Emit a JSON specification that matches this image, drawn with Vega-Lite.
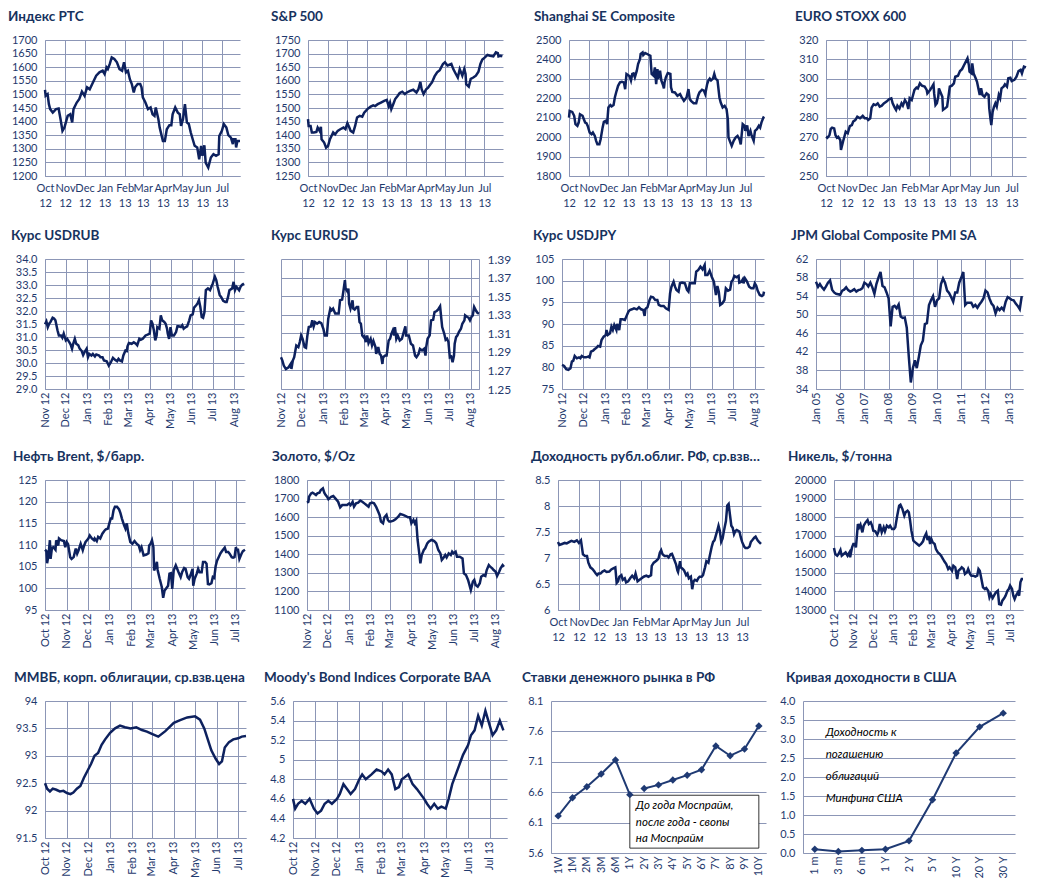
{
"$schema": "https://vega.github.io/schema/vega-lite/v6.json",
"padding": {"left": 8, "top": 9, "right": 0, "bottom": 0},
"spacing": 20,
"background": "white",
"datasets": {
"rts": [{"d":"2012-10-01","v":1517},{"d":"2012-10-02","v":1495},{"d":"2012-10-05","v":1501},{"d":"2012-10-07","v":1464},{"d":"2012-10-09","v":1446},{"d":"2012-10-13","v":1433},{"d":"2012-10-18","v":1446},{"d":"2012-10-22","v":1448},{"d":"2012-10-25","v":1409},{"d":"2012-10-28","v":1366},{"d":"2012-10-31","v":1378},{"d":"2012-11-05","v":1421},{"d":"2012-11-09","v":1427},{"d":"2012-11-12","v":1397},{"d":"2012-11-14","v":1446},{"d":"2012-11-19","v":1470},{"d":"2012-11-23","v":1483},{"d":"2012-11-27","v":1510},{"d":"2012-12-01","v":1495},{"d":"2012-12-05","v":1526},{"d":"2012-12-09","v":1519},{"d":"2012-12-14","v":1544},{"d":"2012-12-19","v":1569},{"d":"2012-12-24","v":1581},{"d":"2012-12-29","v":1587},{"d":"2013-01-01","v":1575},{"d":"2013-01-04","v":1599},{"d":"2013-01-06","v":1593},{"d":"2013-01-09","v":1612},{"d":"2013-01-12","v":1636},{"d":"2013-01-16","v":1630},{"d":"2013-01-20","v":1618},{"d":"2013-01-24","v":1593},{"d":"2013-01-28","v":1587},{"d":"2013-01-31","v":1618},{"d":"2013-02-03","v":1581},{"d":"2013-02-06","v":1587},{"d":"2013-02-09","v":1556},{"d":"2013-02-12","v":1538},{"d":"2013-02-15","v":1507},{"d":"2013-02-17","v":1526},{"d":"2013-02-21","v":1538},{"d":"2013-02-25","v":1538},{"d":"2013-02-27","v":1526},{"d":"2013-03-01","v":1489},{"d":"2013-03-05","v":1470},{"d":"2013-03-09","v":1446},{"d":"2013-03-13","v":1452},{"d":"2013-03-16","v":1427},{"d":"2013-03-19","v":1421},{"d":"2013-03-21","v":1452},{"d":"2013-03-25","v":1409},{"d":"2013-03-27","v":1378},{"d":"2013-04-01","v":1329},{"d":"2013-04-04","v":1329},{"d":"2013-04-07","v":1372},{"d":"2013-04-11","v":1387},{"d":"2013-04-14","v":1387},{"d":"2013-04-16","v":1427},{"d":"2013-04-20","v":1452},{"d":"2013-04-24","v":1433},{"d":"2013-04-27","v":1427},{"d":"2013-04-29","v":1384},{"d":"2013-05-02","v":1409},{"d":"2013-05-05","v":1464},{"d":"2013-05-08","v":1397},{"d":"2013-05-11","v":1391},{"d":"2013-05-14","v":1360},{"d":"2013-05-17","v":1335},{"d":"2013-05-20","v":1311},{"d":"2013-05-24","v":1305},{"d":"2013-05-27","v":1261},{"d":"2013-05-30","v":1311},{"d":"2013-06-01","v":1274},{"d":"2013-06-04","v":1313},{"d":"2013-06-06","v":1249},{"d":"2013-06-10","v":1231},{"d":"2013-06-14","v":1268},{"d":"2013-06-18","v":1280},{"d":"2013-06-22","v":1274},{"d":"2013-06-26","v":1280},{"d":"2013-06-27","v":1347},{"d":"2013-07-01","v":1366},{"d":"2013-07-04","v":1391},{"d":"2013-07-08","v":1378},{"d":"2013-07-11","v":1350},{"d":"2013-07-15","v":1341},{"d":"2013-07-18","v":1317},{"d":"2013-07-19","v":1335},{"d":"2013-07-22","v":1335},{"d":"2013-07-23","v":1305},{"d":"2013-07-25","v":1329},{"d":"2013-07-29","v":1329}],
"spx": [{"d":"2012-10-01","v":1459},{"d":"2012-10-02","v":1434},{"d":"2012-10-05","v":1434},{"d":"2012-10-07","v":1410},{"d":"2012-10-10","v":1410},{"d":"2012-10-14","v":1412},{"d":"2012-10-16","v":1428},{"d":"2012-10-19","v":1416},{"d":"2012-10-21","v":1431},{"d":"2012-10-22","v":1385},{"d":"2012-10-26","v":1373},{"d":"2012-10-29","v":1354},{"d":"2012-11-01","v":1360},{"d":"2012-11-04","v":1385},{"d":"2012-11-09","v":1410},{"d":"2012-11-12","v":1403},{"d":"2012-11-16","v":1416},{"d":"2012-11-20","v":1422},{"d":"2012-11-25","v":1428},{"d":"2012-11-28","v":1422},{"d":"2012-12-01","v":1444},{"d":"2012-12-04","v":1428},{"d":"2012-12-06","v":1416},{"d":"2012-12-10","v":1410},{"d":"2012-12-13","v":1434},{"d":"2012-12-16","v":1465},{"d":"2012-12-20","v":1471},{"d":"2012-12-24","v":1468},{"d":"2012-12-27","v":1483},{"d":"2013-01-01","v":1496},{"d":"2013-01-06","v":1505},{"d":"2013-01-10","v":1510},{"d":"2013-01-13","v":1507},{"d":"2013-01-17","v":1514},{"d":"2013-01-22","v":1520},{"d":"2013-01-27","v":1526},{"d":"2013-01-31","v":1530},{"d":"2013-02-03","v":1507},{"d":"2013-02-05","v":1520},{"d":"2013-02-07","v":1496},{"d":"2013-02-10","v":1514},{"d":"2013-02-13","v":1533},{"d":"2013-02-17","v":1545},{"d":"2013-02-20","v":1555},{"d":"2013-02-24","v":1560},{"d":"2013-02-28","v":1551},{"d":"2013-03-03","v":1557},{"d":"2013-03-08","v":1563},{"d":"2013-03-13","v":1567},{"d":"2013-03-18","v":1557},{"d":"2013-03-21","v":1569},{"d":"2013-03-24","v":1596},{"d":"2013-03-26","v":1569},{"d":"2013-03-29","v":1551},{"d":"2013-04-02","v":1569},{"d":"2013-04-05","v":1575},{"d":"2013-04-09","v":1588},{"d":"2013-04-11","v":1594},{"d":"2013-04-15","v":1616},{"d":"2013-04-19","v":1631},{"d":"2013-04-23","v":1639},{"d":"2013-04-28","v":1662},{"d":"2013-05-01","v":1668},{"d":"2013-05-05","v":1656},{"d":"2013-05-08","v":1659},{"d":"2013-05-11","v":1662},{"d":"2013-05-14","v":1643},{"d":"2013-05-18","v":1625},{"d":"2013-05-21","v":1612},{"d":"2013-05-24","v":1643},{"d":"2013-05-28","v":1619},{"d":"2013-05-31","v":1643},{"d":"2013-06-02","v":1625},{"d":"2013-06-03","v":1588},{"d":"2013-06-07","v":1579},{"d":"2013-06-10","v":1607},{"d":"2013-06-14","v":1612},{"d":"2013-06-18","v":1619},{"d":"2013-06-22","v":1633},{"d":"2013-06-25","v":1662},{"d":"2013-06-28","v":1678},{"d":"2013-07-02","v":1686},{"d":"2013-07-06","v":1695},{"d":"2013-07-10","v":1692},{"d":"2013-07-15","v":1690},{"d":"2013-07-19","v":1705},{"d":"2013-07-22","v":1702},{"d":"2013-07-23","v":1690},{"d":"2013-07-26","v":1692},{"d":"2013-07-29","v":1690}],
"shc": [{"d":"2012-10-01","v":2101},{"d":"2012-10-02","v":2135},{"d":"2012-10-06","v":2130},{"d":"2012-10-09","v":2110},{"d":"2012-10-11","v":2067},{"d":"2012-10-14","v":2058},{"d":"2012-10-16","v":2075},{"d":"2012-10-18","v":2118},{"d":"2012-10-22","v":2110},{"d":"2012-10-24","v":2092},{"d":"2012-10-26","v":2075},{"d":"2012-10-28","v":2072},{"d":"2012-10-30","v":2058},{"d":"2012-11-02","v":2024},{"d":"2012-11-05","v":2015},{"d":"2012-11-07","v":2024},{"d":"2012-11-10","v":2006},{"d":"2012-11-12","v":1981},{"d":"2012-11-14","v":1963},{"d":"2012-11-17","v":1963},{"d":"2012-11-19","v":1989},{"d":"2012-11-22","v":2049},{"d":"2012-11-24","v":2079},{"d":"2012-11-27","v":2084},{"d":"2012-11-29","v":2067},{"d":"2012-12-01","v":2153},{"d":"2012-12-04","v":2165},{"d":"2012-12-06","v":2158},{"d":"2012-12-09","v":2165},{"d":"2012-12-11","v":2204},{"d":"2012-12-13","v":2230},{"d":"2012-12-16","v":2264},{"d":"2012-12-19","v":2282},{"d":"2012-12-22","v":2285},{"d":"2012-12-25","v":2282},{"d":"2012-12-27","v":2247},{"d":"2012-12-29","v":2325},{"d":"2013-01-03","v":2313},{"d":"2013-01-05","v":2292},{"d":"2013-01-07","v":2325},{"d":"2013-01-09","v":2328},{"d":"2013-01-11","v":2308},{"d":"2013-01-14","v":2342},{"d":"2013-01-16","v":2376},{"d":"2013-01-19","v":2402},{"d":"2013-01-20","v":2428},{"d":"2013-01-23","v":2436},{"d":"2013-01-24","v":2423},{"d":"2013-01-27","v":2433},{"d":"2013-01-30","v":2428},{"d":"2013-02-04","v":2419},{"d":"2013-02-06","v":2325},{"d":"2013-02-09","v":2316},{"d":"2013-02-11","v":2359},{"d":"2013-02-13","v":2273},{"d":"2013-02-15","v":2350},{"d":"2013-02-16","v":2299},{"d":"2013-02-19","v":2342},{"d":"2013-02-21","v":2292},{"d":"2013-02-24","v":2264},{"d":"2013-02-25","v":2251},{"d":"2013-02-26","v":2282},{"d":"2013-02-28","v":2308},{"d":"2013-03-03","v":2330},{"d":"2013-03-07","v":2325},{"d":"2013-03-08","v":2256},{"d":"2013-03-10","v":2233},{"d":"2013-03-14","v":2230},{"d":"2013-03-18","v":2213},{"d":"2013-03-22","v":2222},{"d":"2013-03-24","v":2209},{"d":"2013-03-28","v":2187},{"d":"2013-04-01","v":2204},{"d":"2013-04-04","v":2247},{"d":"2013-04-06","v":2196},{"d":"2013-04-08","v":2187},{"d":"2013-04-12","v":2175},{"d":"2013-04-16","v":2175},{"d":"2013-04-19","v":2213},{"d":"2013-04-21","v":2230},{"d":"2013-04-25","v":2244},{"d":"2013-04-28","v":2239},{"d":"2013-04-30","v":2222},{"d":"2013-05-03","v":2273},{"d":"2013-05-05","v":2292},{"d":"2013-05-07","v":2301},{"d":"2013-05-09","v":2292},{"d":"2013-05-12","v":2301},{"d":"2013-05-14","v":2325},{"d":"2013-05-16","v":2301},{"d":"2013-05-19","v":2292},{"d":"2013-05-22","v":2204},{"d":"2013-05-24","v":2178},{"d":"2013-05-27","v":2153},{"d":"2013-05-30","v":2161},{"d":"2013-06-02","v":2144},{"d":"2013-06-04","v":2092},{"d":"2013-06-05","v":1998},{"d":"2013-06-08","v":1972},{"d":"2013-06-10","v":1955},{"d":"2013-06-13","v":1981},{"d":"2013-06-16","v":1998},{"d":"2013-06-19","v":2006},{"d":"2013-06-22","v":1989},{"d":"2013-06-24","v":1963},{"d":"2013-06-25","v":1998},{"d":"2013-06-27","v":2067},{"d":"2013-06-30","v":2058},{"d":"2013-07-01","v":2032},{"d":"2013-07-04","v":2061},{"d":"2013-07-06","v":2006},{"d":"2013-07-09","v":2032},{"d":"2013-07-11","v":2006},{"d":"2013-07-14","v":1981},{"d":"2013-07-16","v":2032},{"d":"2013-07-19","v":2041},{"d":"2013-07-22","v":2058},{"d":"2013-07-24","v":2049},{"d":"2013-07-26","v":2075},{"d":"2013-07-29","v":2101},{"d":"2013-07-30","v":2106}],
"sxxp": [{"d":"2012-10-01","v":270.2},{"d":"2012-10-03","v":269.7},{"d":"2012-10-06","v":271},{"d":"2012-10-08","v":274.2},{"d":"2012-10-10","v":274.9},{"d":"2012-10-13","v":274.5},{"d":"2012-10-15","v":271},{"d":"2012-10-17","v":269.7},{"d":"2012-10-19","v":270.2},{"d":"2012-10-22","v":268.5},{"d":"2012-10-23","v":263.4},{"d":"2012-10-26","v":267.7},{"d":"2012-10-28","v":270.2},{"d":"2012-10-30","v":272.8},{"d":"2012-11-02","v":272},{"d":"2012-11-05","v":275.7},{"d":"2012-11-08","v":276.2},{"d":"2012-11-10","v":278},{"d":"2012-11-13","v":278.8},{"d":"2012-11-16","v":280.5},{"d":"2012-11-20","v":279.7},{"d":"2012-11-24","v":281},{"d":"2012-11-27","v":279.7},{"d":"2012-11-30","v":279.7},{"d":"2012-12-02","v":278.8},{"d":"2012-12-05","v":279.7},{"d":"2012-12-07","v":285.2},{"d":"2012-12-10","v":286.9},{"d":"2012-12-13","v":286.5},{"d":"2012-12-16","v":287.4},{"d":"2012-12-19","v":285.7},{"d":"2012-12-22","v":286.2},{"d":"2012-12-25","v":287.4},{"d":"2012-12-29","v":288.3},{"d":"2013-01-02","v":289.6},{"d":"2013-01-05","v":290},{"d":"2013-01-07","v":287.4},{"d":"2013-01-10","v":285.2},{"d":"2013-01-12","v":284},{"d":"2013-01-14","v":286.2},{"d":"2013-01-17","v":284.8},{"d":"2013-01-20","v":287.4},{"d":"2013-01-22","v":286.2},{"d":"2013-01-25","v":289.1},{"d":"2013-01-28","v":287.4},{"d":"2013-01-30","v":284.5},{"d":"2013-02-01","v":290},{"d":"2013-02-04","v":289.1},{"d":"2013-02-06","v":291.7},{"d":"2013-02-08","v":294.3},{"d":"2013-02-11","v":295.5},{"d":"2013-02-13","v":295.1},{"d":"2013-02-16","v":297.7},{"d":"2013-02-19","v":296.5},{"d":"2013-02-23","v":296},{"d":"2013-02-26","v":294.3},{"d":"2013-02-27","v":292.5},{"d":"2013-03-03","v":294.3},{"d":"2013-03-06","v":296},{"d":"2013-03-08","v":297.2},{"d":"2013-03-09","v":292.5},{"d":"2013-03-11","v":286.5},{"d":"2013-03-13","v":287.4},{"d":"2013-03-15","v":290.8},{"d":"2013-03-16","v":295.1},{"d":"2013-03-19","v":292.5},{"d":"2013-03-21","v":290.8},{"d":"2013-03-22","v":284},{"d":"2013-03-25","v":284.8},{"d":"2013-03-28","v":285.7},{"d":"2013-03-30","v":290.8},{"d":"2013-04-01","v":296},{"d":"2013-04-04","v":296.5},{"d":"2013-04-07","v":297.7},{"d":"2013-04-09","v":301.1},{"d":"2013-04-13","v":301.6},{"d":"2013-04-16","v":304},{"d":"2013-04-19","v":305},{"d":"2013-04-22","v":307.1},{"d":"2013-04-24","v":308.5},{"d":"2013-04-27","v":310.6},{"d":"2013-04-29","v":307.1},{"d":"2013-04-30","v":303.7},{"d":"2013-05-03","v":302.8},{"d":"2013-05-04","v":308},{"d":"2013-05-06","v":302.8},{"d":"2013-05-09","v":300.3},{"d":"2013-05-11","v":298.5},{"d":"2013-05-13","v":295.1},{"d":"2013-05-15","v":291.7},{"d":"2013-05-17","v":295.1},{"d":"2013-05-19","v":291.7},{"d":"2013-05-22","v":290.8},{"d":"2013-05-25","v":292.5},{"d":"2013-05-28","v":291.7},{"d":"2013-05-29","v":284.8},{"d":"2013-05-31","v":278.8},{"d":"2013-06-01","v":276.2},{"d":"2013-06-03","v":283.1},{"d":"2013-06-05","v":285.7},{"d":"2013-06-07","v":287.4},{"d":"2013-06-09","v":285.7},{"d":"2013-06-12","v":291.7},{"d":"2013-06-14","v":290},{"d":"2013-06-16","v":295.1},{"d":"2013-06-19","v":296},{"d":"2013-06-21","v":297.2},{"d":"2013-06-24","v":296},{"d":"2013-06-26","v":300.3},{"d":"2013-06-29","v":300.6},{"d":"2013-07-01","v":298.9},{"d":"2013-07-05","v":299.5},{"d":"2013-07-08","v":301.1},{"d":"2013-07-11","v":304},{"d":"2013-07-14","v":304.6},{"d":"2013-07-16","v":302.8},{"d":"2013-07-19","v":306.3},{"d":"2013-07-22","v":305.9}],
"usdrub": [{"d":"2012-11-01","v":31.49},{"d":"2012-11-03","v":31.6},{"d":"2012-11-05","v":31.38},{"d":"2012-11-07","v":31.51},{"d":"2012-11-09","v":31.58},{"d":"2012-11-12","v":31.74},{"d":"2012-11-14","v":31.71},{"d":"2012-11-16","v":31.64},{"d":"2012-11-19","v":31.26},{"d":"2012-11-21","v":31.06},{"d":"2012-11-24","v":31.06},{"d":"2012-11-26","v":30.97},{"d":"2012-11-28","v":31.13},{"d":"2012-12-01","v":30.87},{"d":"2012-12-03","v":30.93},{"d":"2012-12-06","v":30.8},{"d":"2012-12-08","v":30.71},{"d":"2012-12-10","v":30.55},{"d":"2012-12-12","v":30.77},{"d":"2012-12-14","v":30.93},{"d":"2012-12-16","v":30.74},{"d":"2012-12-19","v":30.68},{"d":"2012-12-21","v":30.55},{"d":"2012-12-24","v":30.46},{"d":"2012-12-26","v":30.31},{"d":"2012-12-28","v":30.42},{"d":"2012-12-31","v":30.55},{"d":"2013-01-02","v":30.22},{"d":"2013-01-04","v":30.35},{"d":"2013-01-07","v":30.29},{"d":"2013-01-09","v":30.35},{"d":"2013-01-12","v":30.25},{"d":"2013-01-14","v":30.33},{"d":"2013-01-18","v":30.29},{"d":"2013-01-20","v":30.22},{"d":"2013-01-23","v":30.22},{"d":"2013-01-25","v":30.1},{"d":"2013-01-29","v":30.07},{"d":"2013-02-01","v":29.9},{"d":"2013-02-04","v":30.03},{"d":"2013-02-07","v":30.2},{"d":"2013-02-10","v":30.12},{"d":"2013-02-13","v":30.07},{"d":"2013-02-15","v":30.16},{"d":"2013-02-17","v":30.1},{"d":"2013-02-20","v":30.06},{"d":"2013-02-22","v":30.29},{"d":"2013-02-25","v":30.48},{"d":"2013-02-27","v":30.46},{"d":"2013-02-28","v":30.64},{"d":"2013-03-02","v":30.77},{"d":"2013-03-06","v":30.74},{"d":"2013-03-09","v":30.8},{"d":"2013-03-12","v":30.74},{"d":"2013-03-14","v":30.68},{"d":"2013-03-17","v":30.93},{"d":"2013-03-19","v":30.89},{"d":"2013-03-22","v":30.93},{"d":"2013-03-26","v":31.06},{"d":"2013-03-29","v":31.09},{"d":"2013-04-01","v":31.13},{"d":"2013-04-03","v":31.64},{"d":"2013-04-05","v":31.51},{"d":"2013-04-07","v":31.26},{"d":"2013-04-09","v":30.87},{"d":"2013-04-11","v":31.06},{"d":"2013-04-12","v":31.38},{"d":"2013-04-15","v":31.32},{"d":"2013-04-17","v":31.83},{"d":"2013-04-19","v":31.64},{"d":"2013-04-22","v":31.58},{"d":"2013-04-24","v":31.51},{"d":"2013-04-26","v":31.32},{"d":"2013-04-27","v":31.13},{"d":"2013-04-29","v":30.93},{"d":"2013-05-01","v":31.38},{"d":"2013-05-03","v":31.06},{"d":"2013-05-06","v":31.06},{"d":"2013-05-09","v":31.19},{"d":"2013-05-11","v":31.41},{"d":"2013-05-13","v":31.41},{"d":"2013-05-16","v":31.38},{"d":"2013-05-18","v":31.45},{"d":"2013-05-20","v":31.32},{"d":"2013-05-23","v":31.38},{"d":"2013-05-25","v":31.41},{"d":"2013-05-28","v":31.64},{"d":"2013-05-30","v":31.83},{"d":"2013-06-02","v":31.87},{"d":"2013-06-04","v":32.13},{"d":"2013-06-07","v":32.22},{"d":"2013-06-09","v":32.29},{"d":"2013-06-11","v":32.42},{"d":"2013-06-13","v":32.16},{"d":"2013-06-15","v":31.77},{"d":"2013-06-17","v":31.74},{"d":"2013-06-19","v":31.96},{"d":"2013-06-21","v":32.8},{"d":"2013-06-24","v":32.87},{"d":"2013-06-27","v":32.8},{"d":"2013-06-29","v":32.93},{"d":"2013-07-01","v":33.06},{"d":"2013-07-04","v":33.32},{"d":"2013-07-06","v":33.19},{"d":"2013-07-08","v":32.93},{"d":"2013-07-11","v":32.61},{"d":"2013-07-13","v":32.54},{"d":"2013-07-16","v":32.39},{"d":"2013-07-19","v":32.35},{"d":"2013-07-21","v":32.35},{"d":"2013-07-23","v":32.54},{"d":"2013-07-25","v":32.8},{"d":"2013-07-29","v":32.87},{"d":"2013-07-31","v":33.12},{"d":"2013-08-02","v":32.8},{"d":"2013-08-04","v":32.93},{"d":"2013-08-06","v":32.87},{"d":"2013-08-08","v":32.8},{"d":"2013-08-10","v":32.93},{"d":"2013-08-12","v":33},{"d":"2013-08-15","v":33.06}],
"eurusd": [{"d":"2012-11-01","v":1.2842},{"d":"2012-11-03","v":1.2806},{"d":"2012-11-05","v":1.2752},{"d":"2012-11-08","v":1.2716},{"d":"2012-11-12","v":1.2734},{"d":"2012-11-15","v":1.277},{"d":"2012-11-16","v":1.2716},{"d":"2012-11-18","v":1.2806},{"d":"2012-11-20","v":1.2842},{"d":"2012-11-23","v":1.2969},{"d":"2012-11-26","v":1.2951},{"d":"2012-11-28","v":1.3005},{"d":"2012-11-30","v":1.3077},{"d":"2012-12-02","v":1.3041},{"d":"2012-12-05","v":1.2951},{"d":"2012-12-07","v":1.2943},{"d":"2012-12-09","v":1.3077},{"d":"2012-12-11","v":1.3167},{"d":"2012-12-14","v":1.3174},{"d":"2012-12-16","v":1.3239},{"d":"2012-12-18","v":1.3174},{"d":"2012-12-20","v":1.3221},{"d":"2012-12-23","v":1.3203},{"d":"2012-12-26","v":1.3221},{"d":"2012-12-29","v":1.321},{"d":"2013-01-01","v":1.3149},{"d":"2013-01-03","v":1.3077},{"d":"2013-01-06","v":1.3077},{"d":"2013-01-08","v":1.3257},{"d":"2013-01-11","v":1.3366},{"d":"2013-01-13","v":1.3347},{"d":"2013-01-15","v":1.3366},{"d":"2013-01-18","v":1.3312},{"d":"2013-01-20","v":1.3312},{"d":"2013-01-23","v":1.3312},{"d":"2013-01-25","v":1.3456},{"d":"2013-01-28","v":1.3463},{"d":"2013-01-30","v":1.3564},{"d":"2013-02-01","v":1.3673},{"d":"2013-02-02","v":1.3582},{"d":"2013-02-05","v":1.3546},{"d":"2013-02-06","v":1.3582},{"d":"2013-02-07","v":1.342},{"d":"2013-02-09","v":1.3366},{"d":"2013-02-12","v":1.3456},{"d":"2013-02-13","v":1.3366},{"d":"2013-02-15","v":1.3355},{"d":"2013-02-18","v":1.3384},{"d":"2013-02-20","v":1.3384},{"d":"2013-02-22","v":1.3221},{"d":"2013-02-24","v":1.3203},{"d":"2013-02-26","v":1.3077},{"d":"2013-02-28","v":1.3059},{"d":"2013-03-01","v":1.3066},{"d":"2013-03-03","v":1.3005},{"d":"2013-03-05","v":1.3077},{"d":"2013-03-07","v":1.2994},{"d":"2013-03-10","v":1.3041},{"d":"2013-03-12","v":1.2969},{"d":"2013-03-14","v":1.3016},{"d":"2013-03-17","v":1.2951},{"d":"2013-03-18","v":1.2878},{"d":"2013-03-21","v":1.2951},{"d":"2013-03-23","v":1.2878},{"d":"2013-03-25","v":1.286},{"d":"2013-03-27","v":1.277},{"d":"2013-03-28","v":1.2842},{"d":"2013-03-31","v":1.286},{"d":"2013-04-02","v":1.286},{"d":"2013-04-05","v":1.3023},{"d":"2013-04-07","v":1.3041},{"d":"2013-04-09","v":1.3095},{"d":"2013-04-11","v":1.3131},{"d":"2013-04-13","v":1.3077},{"d":"2013-04-14","v":1.3167},{"d":"2013-04-16","v":1.3041},{"d":"2013-04-18","v":1.3077},{"d":"2013-04-21","v":1.3023},{"d":"2013-04-24","v":1.3041},{"d":"2013-04-26","v":1.3095},{"d":"2013-04-29","v":1.3174},{"d":"2013-04-30","v":1.3077},{"d":"2013-05-02","v":1.3077},{"d":"2013-05-04","v":1.3077},{"d":"2013-05-07","v":1.2987},{"d":"2013-05-10","v":1.2969},{"d":"2013-05-13","v":1.286},{"d":"2013-05-15","v":1.2842},{"d":"2013-05-18","v":1.2878},{"d":"2013-05-20","v":1.2933},{"d":"2013-05-23","v":1.2915},{"d":"2013-05-26","v":1.2933},{"d":"2013-05-28","v":1.286},{"d":"2013-05-29","v":1.2951},{"d":"2013-05-31","v":1.3041},{"d":"2013-06-03","v":1.3077},{"d":"2013-06-05","v":1.3239},{"d":"2013-06-08","v":1.3246},{"d":"2013-06-10","v":1.3329},{"d":"2013-06-13","v":1.334},{"d":"2013-06-15","v":1.3355},{"d":"2013-06-18","v":1.3391},{"d":"2013-06-20","v":1.3239},{"d":"2013-06-21","v":1.3167},{"d":"2013-06-24","v":1.3095},{"d":"2013-06-26","v":1.303},{"d":"2013-06-28","v":1.3041},{"d":"2013-06-30","v":1.3005},{"d":"2013-07-02","v":1.2842},{"d":"2013-07-04","v":1.2849},{"d":"2013-07-06","v":1.2788},{"d":"2013-07-08","v":1.286},{"d":"2013-07-09","v":1.2987},{"d":"2013-07-11","v":1.3059},{"d":"2013-07-13","v":1.3077},{"d":"2013-07-15","v":1.3113},{"d":"2013-07-18","v":1.3149},{"d":"2013-07-20","v":1.3203},{"d":"2013-07-23","v":1.3239},{"d":"2013-07-24","v":1.3293},{"d":"2013-07-27","v":1.3275},{"d":"2013-07-29","v":1.3268},{"d":"2013-07-31","v":1.3239},{"d":"2013-08-02","v":1.3275},{"d":"2013-08-04","v":1.3293},{"d":"2013-08-06","v":1.3384},{"d":"2013-08-09","v":1.334},{"d":"2013-08-11","v":1.3318},{"d":"2013-08-13","v":1.3311}],
"usdjpy": [{"d":"2012-11-01","v":80.54},{"d":"2012-11-04","v":80.31},{"d":"2012-11-07","v":79.55},{"d":"2012-11-10","v":79.39},{"d":"2012-11-13","v":79.78},{"d":"2012-11-15","v":81.32},{"d":"2012-11-17","v":81.55},{"d":"2012-11-19","v":82.62},{"d":"2012-11-22","v":82.09},{"d":"2012-11-25","v":82.31},{"d":"2012-11-27","v":82.09},{"d":"2012-11-29","v":82.62},{"d":"2012-12-02","v":82.31},{"d":"2012-12-05","v":82.31},{"d":"2012-12-08","v":82.47},{"d":"2012-12-10","v":82.31},{"d":"2012-12-12","v":83.62},{"d":"2012-12-15","v":83.85},{"d":"2012-12-17","v":84.16},{"d":"2012-12-20","v":84.55},{"d":"2012-12-22","v":84.93},{"d":"2012-12-25","v":84.78},{"d":"2012-12-27","v":86.31},{"d":"2012-12-30","v":87.08},{"d":"2013-01-02","v":87.47},{"d":"2013-01-03","v":88.62},{"d":"2013-01-05","v":87.47},{"d":"2013-01-08","v":87.85},{"d":"2013-01-10","v":89.39},{"d":"2013-01-12","v":88.62},{"d":"2013-01-14","v":89.77},{"d":"2013-01-17","v":88.62},{"d":"2013-01-18","v":90},{"d":"2013-01-21","v":88.62},{"d":"2013-01-23","v":91.08},{"d":"2013-01-26","v":91.08},{"d":"2013-01-29","v":90.93},{"d":"2013-01-31","v":91.7},{"d":"2013-02-03","v":92.85},{"d":"2013-02-05","v":93.23},{"d":"2013-02-08","v":93.39},{"d":"2013-02-11","v":93.62},{"d":"2013-02-15","v":93.39},{"d":"2013-02-18","v":93.85},{"d":"2013-02-21","v":93.39},{"d":"2013-02-24","v":93.23},{"d":"2013-02-26","v":91.85},{"d":"2013-02-27","v":93.39},{"d":"2013-02-28","v":93.62},{"d":"2013-03-02","v":93.85},{"d":"2013-03-05","v":95.54},{"d":"2013-03-07","v":96.31},{"d":"2013-03-10","v":96.16},{"d":"2013-03-13","v":95.54},{"d":"2013-03-16","v":95.54},{"d":"2013-03-18","v":94.39},{"d":"2013-03-21","v":94.16},{"d":"2013-03-25","v":94.16},{"d":"2013-03-28","v":93.62},{"d":"2013-04-01","v":93.23},{"d":"2013-04-03","v":97.08},{"d":"2013-04-05","v":98.62},{"d":"2013-04-08","v":99.77},{"d":"2013-04-10","v":98.62},{"d":"2013-04-12","v":97.85},{"d":"2013-04-15","v":97.47},{"d":"2013-04-17","v":99.39},{"d":"2013-04-20","v":99.54},{"d":"2013-04-24","v":99.39},{"d":"2013-04-27","v":97.85},{"d":"2013-04-29","v":97.47},{"d":"2013-05-01","v":99.39},{"d":"2013-05-04","v":99.39},{"d":"2013-05-08","v":99.39},{"d":"2013-05-10","v":102.08},{"d":"2013-05-13","v":102.46},{"d":"2013-05-16","v":103.23},{"d":"2013-05-19","v":102.62},{"d":"2013-05-22","v":103.62},{"d":"2013-05-23","v":101.31},{"d":"2013-05-26","v":101.31},{"d":"2013-05-29","v":102.31},{"d":"2013-06-01","v":100.92},{"d":"2013-06-04","v":99.77},{"d":"2013-06-07","v":96.7},{"d":"2013-06-09","v":98.77},{"d":"2013-06-11","v":97.47},{"d":"2013-06-13","v":94.39},{"d":"2013-06-16","v":94.77},{"d":"2013-06-19","v":95.54},{"d":"2013-06-21","v":98.23},{"d":"2013-06-24","v":97.7},{"d":"2013-06-27","v":97.92},{"d":"2013-06-29","v":99.77},{"d":"2013-07-01","v":100.16},{"d":"2013-07-03","v":101.08},{"d":"2013-07-06","v":100.77},{"d":"2013-07-09","v":101.08},{"d":"2013-07-10","v":99.54},{"d":"2013-07-13","v":99.77},{"d":"2013-07-15","v":100.31},{"d":"2013-07-16","v":99.39},{"d":"2013-07-18","v":100.54},{"d":"2013-07-21","v":99.77},{"d":"2013-07-24","v":98.62},{"d":"2013-07-27","v":98.23},{"d":"2013-07-30","v":98.23},{"d":"2013-08-01","v":99.39},{"d":"2013-08-03","v":98.85},{"d":"2013-08-05","v":97.7},{"d":"2013-08-08","v":96.7},{"d":"2013-08-11","v":96.47},{"d":"2013-08-13","v":96.7},{"d":"2013-08-14","v":97.47}],
"pmi": [{"d":"2005-01-01","v":57.1},{"d":"2005-02-01","v":56.0},{"d":"2005-03-01","v":56.6},{"d":"2005-04-01","v":55.9},{"d":"2005-05-01","v":55.4},{"d":"2005-06-01","v":56.1},{"d":"2005-07-01","v":56.9},{"d":"2005-08-01","v":57.4},{"d":"2005-09-01","v":55.4},{"d":"2005-10-01","v":54.8},{"d":"2005-11-01","v":54.5},{"d":"2005-12-01","v":54.4},{"d":"2006-01-01","v":54.3},{"d":"2006-02-01","v":55.2},{"d":"2006-03-01","v":55.4},{"d":"2006-04-01","v":55.9},{"d":"2006-05-01","v":55.3},{"d":"2006-06-01","v":55.0},{"d":"2006-07-01","v":55.2},{"d":"2006-08-01","v":55.5},{"d":"2006-09-01","v":55.0},{"d":"2006-10-01","v":55.3},{"d":"2006-11-01","v":55.4},{"d":"2006-12-01","v":55.7},{"d":"2007-01-01","v":56.9},{"d":"2007-02-01","v":56.6},{"d":"2007-03-01","v":56.1},{"d":"2007-04-01","v":56.9},{"d":"2007-05-01","v":55.9},{"d":"2007-06-01","v":54.5},{"d":"2007-07-01","v":56.6},{"d":"2007-08-01","v":58.0},{"d":"2007-09-01","v":59.2},{"d":"2007-10-01","v":56.2},{"d":"2007-11-01","v":55.9},{"d":"2007-12-01","v":54.8},{"d":"2008-01-01","v":53.5},{"d":"2008-02-01","v":47.5},{"d":"2008-03-01","v":51.7},{"d":"2008-04-01","v":51.9},{"d":"2008-05-01","v":51.4},{"d":"2008-06-01","v":52.2},{"d":"2008-07-01","v":49.6},{"d":"2008-08-01","v":49.3},{"d":"2008-09-01","v":49.4},{"d":"2008-10-01","v":47.2},{"d":"2008-11-01","v":40.9},{"d":"2008-12-01","v":35.4},{"d":"2009-01-01","v":38.5},{"d":"2009-02-01","v":40.2},{"d":"2009-03-01","v":38.5},{"d":"2009-04-01","v":40.9},{"d":"2009-05-01","v":43.4},{"d":"2009-06-01","v":44.4},{"d":"2009-07-01","v":48.0},{"d":"2009-08-01","v":48.2},{"d":"2009-09-01","v":52.1},{"d":"2009-10-01","v":53.1},{"d":"2009-11-01","v":54.0},{"d":"2009-12-01","v":51.7},{"d":"2010-01-01","v":53.1},{"d":"2010-02-01","v":53.5},{"d":"2010-03-01","v":56.6},{"d":"2010-04-01","v":57.8},{"d":"2010-05-01","v":56.9},{"d":"2010-06-01","v":55.2},{"d":"2010-07-01","v":54.7},{"d":"2010-08-01","v":53.8},{"d":"2010-09-01","v":52.8},{"d":"2010-10-01","v":54.8},{"d":"2010-11-01","v":54.8},{"d":"2010-12-01","v":56.9},{"d":"2011-01-01","v":58.0},{"d":"2011-02-01","v":59.2},{"d":"2011-03-01","v":52.1},{"d":"2011-04-01","v":52.6},{"d":"2011-05-01","v":52.6},{"d":"2011-06-01","v":52.6},{"d":"2011-07-01","v":51.7},{"d":"2011-08-01","v":52.1},{"d":"2011-09-01","v":51.5},{"d":"2011-10-01","v":52.2},{"d":"2011-11-01","v":52.8},{"d":"2011-12-01","v":53.5},{"d":"2012-01-01","v":55.2},{"d":"2012-02-01","v":54.8},{"d":"2012-03-01","v":53.5},{"d":"2012-04-01","v":52.4},{"d":"2012-05-01","v":51.9},{"d":"2012-06-01","v":50.3},{"d":"2012-07-01","v":51.5},{"d":"2012-08-01","v":51.0},{"d":"2012-09-01","v":51.5},{"d":"2012-10-01","v":51.0},{"d":"2012-11-01","v":52.8},{"d":"2012-12-01","v":53.8},{"d":"2013-01-01","v":53.5},{"d":"2013-02-01","v":53.2},{"d":"2013-03-01","v":53.1},{"d":"2013-04-01","v":52.4},{"d":"2013-05-01","v":51.9},{"d":"2013-06-01","v":51.2},{"d":"2013-07-01","v":54.0}],
"brent": [{"d":"2012-10-01","v":108.9},{"d":"2012-10-03","v":108.6},{"d":"2012-10-04","v":105.8},{"d":"2012-10-06","v":107.6},{"d":"2012-10-08","v":111.1},{"d":"2012-10-09","v":106.8},{"d":"2012-10-11","v":109.4},{"d":"2012-10-13","v":109.5},{"d":"2012-10-16","v":108.9},{"d":"2012-10-17","v":111.1},{"d":"2012-10-20","v":109.9},{"d":"2012-10-21","v":111.5},{"d":"2012-10-24","v":111.1},{"d":"2012-10-28","v":110.9},{"d":"2012-10-30","v":109.5},{"d":"2012-11-01","v":110.7},{"d":"2012-11-03","v":110.2},{"d":"2012-11-06","v":107.2},{"d":"2012-11-08","v":106.8},{"d":"2012-11-11","v":107.2},{"d":"2012-11-14","v":109.2},{"d":"2012-11-16","v":108},{"d":"2012-11-18","v":108.8},{"d":"2012-11-21","v":110.3},{"d":"2012-11-24","v":108.8},{"d":"2012-11-26","v":109.9},{"d":"2012-11-28","v":110.7},{"d":"2012-11-30","v":111.1},{"d":"2012-12-02","v":111.5},{"d":"2012-12-04","v":112.2},{"d":"2012-12-07","v":111.5},{"d":"2012-12-10","v":111.1},{"d":"2012-12-11","v":111.5},{"d":"2012-12-14","v":110.9},{"d":"2012-12-16","v":111.9},{"d":"2012-12-19","v":111.5},{"d":"2012-12-22","v":112.6},{"d":"2012-12-25","v":113.3},{"d":"2012-12-27","v":113.6},{"d":"2012-12-30","v":113.8},{"d":"2013-01-01","v":115},{"d":"2013-01-03","v":116.1},{"d":"2013-01-05","v":116.1},{"d":"2013-01-07","v":118},{"d":"2013-01-09","v":118.8},{"d":"2013-01-12","v":118.8},{"d":"2013-01-15","v":118.2},{"d":"2013-01-17","v":117.3},{"d":"2013-01-19","v":116.1},{"d":"2013-01-22","v":114.6},{"d":"2013-01-24","v":113.8},{"d":"2013-01-26","v":115},{"d":"2013-01-28","v":112.8},{"d":"2013-01-31","v":110.7},{"d":"2013-02-03","v":110.3},{"d":"2013-02-06","v":110.9},{"d":"2013-02-09","v":110.3},{"d":"2013-02-12","v":109.9},{"d":"2013-02-14","v":108.8},{"d":"2013-02-16","v":109.5},{"d":"2013-02-19","v":107.6},{"d":"2013-02-23","v":107.8},{"d":"2013-02-26","v":108.1},{"d":"2013-02-27","v":109.9},{"d":"2013-03-01","v":110.3},{"d":"2013-03-03","v":111.1},{"d":"2013-03-05","v":109.5},{"d":"2013-03-06","v":104.1},{"d":"2013-03-08","v":104.9},{"d":"2013-03-10","v":106.1},{"d":"2013-03-11","v":104.3},{"d":"2013-03-14","v":102.2},{"d":"2013-03-17","v":100.3},{"d":"2013-03-19","v":97.8},{"d":"2013-03-21","v":99.5},{"d":"2013-03-23","v":99.9},{"d":"2013-03-26","v":100.6},{"d":"2013-03-28","v":103.4},{"d":"2013-03-30","v":103.5},{"d":"2013-04-01","v":99.9},{"d":"2013-04-03","v":104.1},{"d":"2013-04-06","v":105.3},{"d":"2013-04-08","v":104.5},{"d":"2013-04-10","v":103.7},{"d":"2013-04-13","v":102.6},{"d":"2013-04-15","v":103.7},{"d":"2013-04-18","v":104.7},{"d":"2013-04-20","v":104.5},{"d":"2013-04-23","v":102.6},{"d":"2013-04-25","v":102.2},{"d":"2013-04-27","v":103},{"d":"2013-04-30","v":104.5},{"d":"2013-05-01","v":100.6},{"d":"2013-05-03","v":102.2},{"d":"2013-05-06","v":103.4},{"d":"2013-05-08","v":104.5},{"d":"2013-05-10","v":103.7},{"d":"2013-05-13","v":103.7},{"d":"2013-05-15","v":106.1},{"d":"2013-05-18","v":106.1},{"d":"2013-05-20","v":105.7},{"d":"2013-05-22","v":101},{"d":"2013-05-24","v":100.9},{"d":"2013-05-27","v":101.2},{"d":"2013-05-29","v":102.6},{"d":"2013-05-31","v":102.4},{"d":"2013-06-02","v":105.1},{"d":"2013-06-04","v":106.4},{"d":"2013-06-07","v":107.4},{"d":"2013-06-09","v":108.1},{"d":"2013-06-12","v":108.8},{"d":"2013-06-15","v":109.4},{"d":"2013-06-17","v":108.4},{"d":"2013-06-20","v":108.4},{"d":"2013-06-22","v":108},{"d":"2013-06-25","v":107.2},{"d":"2013-06-27","v":107.1},{"d":"2013-06-29","v":107.2},{"d":"2013-07-01","v":109.5},{"d":"2013-07-02","v":108.9},{"d":"2013-07-04","v":108.9},{"d":"2013-07-06","v":106.8},{"d":"2013-07-09","v":108},{"d":"2013-07-11","v":108.6},{"d":"2013-07-14","v":108.9}],
"gold": [{"d":"2012-11-01","v":1678},{"d":"2012-11-03","v":1683},{"d":"2012-11-04","v":1710},{"d":"2012-11-07","v":1728},{"d":"2012-11-09","v":1732},{"d":"2012-11-12","v":1725},{"d":"2012-11-14","v":1719},{"d":"2012-11-16","v":1728},{"d":"2012-11-19","v":1732},{"d":"2012-11-21","v":1746},{"d":"2012-11-24","v":1755},{"d":"2012-11-26","v":1732},{"d":"2012-11-28","v":1719},{"d":"2012-11-30","v":1710},{"d":"2012-12-02","v":1696},{"d":"2012-12-06","v":1710},{"d":"2012-12-09","v":1714},{"d":"2012-12-12","v":1701},{"d":"2012-12-16","v":1683},{"d":"2012-12-19","v":1653},{"d":"2012-12-22","v":1665},{"d":"2012-12-26","v":1665},{"d":"2012-12-29","v":1665},{"d":"2013-01-01","v":1674},{"d":"2013-01-03","v":1665},{"d":"2013-01-06","v":1683},{"d":"2013-01-08","v":1656},{"d":"2013-01-11","v":1674},{"d":"2013-01-14","v":1678},{"d":"2013-01-17","v":1689},{"d":"2013-01-20","v":1683},{"d":"2013-01-23","v":1674},{"d":"2013-01-26","v":1665},{"d":"2013-01-29","v":1656},{"d":"2013-01-31","v":1674},{"d":"2013-02-03","v":1678},{"d":"2013-02-06","v":1674},{"d":"2013-02-09","v":1656},{"d":"2013-02-11","v":1638},{"d":"2013-02-14","v":1612},{"d":"2013-02-16","v":1576},{"d":"2013-02-19","v":1567},{"d":"2013-02-21","v":1599},{"d":"2013-02-24","v":1612},{"d":"2013-02-26","v":1585},{"d":"2013-02-28","v":1576},{"d":"2013-03-02","v":1576},{"d":"2013-03-06","v":1581},{"d":"2013-03-09","v":1588},{"d":"2013-03-13","v":1603},{"d":"2013-03-16","v":1617},{"d":"2013-03-20","v":1612},{"d":"2013-03-24","v":1606},{"d":"2013-03-27","v":1599},{"d":"2013-03-30","v":1599},{"d":"2013-04-01","v":1567},{"d":"2013-04-04","v":1585},{"d":"2013-04-06","v":1567},{"d":"2013-04-08","v":1581},{"d":"2013-04-10","v":1477},{"d":"2013-04-13","v":1387},{"d":"2013-04-14","v":1351},{"d":"2013-04-16","v":1396},{"d":"2013-04-19","v":1423},{"d":"2013-04-21","v":1432},{"d":"2013-04-24","v":1459},{"d":"2013-04-26","v":1468},{"d":"2013-04-30","v":1477},{"d":"2013-05-03","v":1473},{"d":"2013-05-05","v":1468},{"d":"2013-05-07","v":1459},{"d":"2013-05-10","v":1423},{"d":"2013-05-13","v":1405},{"d":"2013-05-15","v":1369},{"d":"2013-05-17","v":1378},{"d":"2013-05-20","v":1396},{"d":"2013-05-22","v":1383},{"d":"2013-05-25","v":1405},{"d":"2013-05-28","v":1396},{"d":"2013-05-30","v":1414},{"d":"2013-06-01","v":1405},{"d":"2013-06-04","v":1414},{"d":"2013-06-06","v":1387},{"d":"2013-06-10","v":1387},{"d":"2013-06-14","v":1378},{"d":"2013-06-16","v":1297},{"d":"2013-06-19","v":1288},{"d":"2013-06-22","v":1262},{"d":"2013-06-24","v":1235},{"d":"2013-06-26","v":1208},{"d":"2013-06-29","v":1253},{"d":"2013-07-01","v":1262},{"d":"2013-07-03","v":1235},{"d":"2013-07-06","v":1226},{"d":"2013-07-09","v":1244},{"d":"2013-07-11","v":1279},{"d":"2013-07-14","v":1288},{"d":"2013-07-17","v":1283},{"d":"2013-07-19","v":1315},{"d":"2013-07-22","v":1342},{"d":"2013-07-24","v":1333},{"d":"2013-07-27","v":1324},{"d":"2013-07-29","v":1315},{"d":"2013-08-01","v":1306},{"d":"2013-08-03","v":1283},{"d":"2013-08-06","v":1306},{"d":"2013-08-08","v":1324},{"d":"2013-08-11","v":1342},{"d":"2013-08-13","v":1333}],
"ofz": [{"d":"2012-10-01","v":7.31},{"d":"2012-10-03","v":7.25},{"d":"2012-10-07","v":7.27},{"d":"2012-10-11","v":7.29},{"d":"2012-10-14","v":7.28},{"d":"2012-10-18","v":7.31},{"d":"2012-10-21","v":7.33},{"d":"2012-10-25","v":7.31},{"d":"2012-10-29","v":7.34},{"d":"2012-11-01","v":7.29},{"d":"2012-11-04","v":7.34},{"d":"2012-11-05","v":7.25},{"d":"2012-11-07","v":7.07},{"d":"2012-11-10","v":7.04},{"d":"2012-11-13","v":7.04},{"d":"2012-11-15","v":6.91},{"d":"2012-11-18","v":6.82},{"d":"2012-11-21","v":6.79},{"d":"2012-11-24","v":6.74},{"d":"2012-11-26","v":6.7},{"d":"2012-11-28","v":6.67},{"d":"2012-11-30","v":6.7},{"d":"2012-12-03","v":6.7},{"d":"2012-12-06","v":6.74},{"d":"2012-12-09","v":6.76},{"d":"2012-12-12","v":6.73},{"d":"2012-12-16","v":6.74},{"d":"2012-12-19","v":6.78},{"d":"2012-12-22","v":6.8},{"d":"2012-12-25","v":6.82},{"d":"2012-12-27","v":6.52},{"d":"2012-12-29","v":6.55},{"d":"2012-12-31","v":6.64},{"d":"2013-01-03","v":6.67},{"d":"2013-01-05","v":6.58},{"d":"2013-01-08","v":6.61},{"d":"2013-01-10","v":6.53},{"d":"2013-01-13","v":6.55},{"d":"2013-01-16","v":6.61},{"d":"2013-01-19","v":6.66},{"d":"2013-01-22","v":6.61},{"d":"2013-01-24","v":6.7},{"d":"2013-01-27","v":6.55},{"d":"2013-01-30","v":6.58},{"d":"2013-02-02","v":6.61},{"d":"2013-02-05","v":6.64},{"d":"2013-02-09","v":6.66},{"d":"2013-02-12","v":6.64},{"d":"2013-02-16","v":6.67},{"d":"2013-02-17","v":6.85},{"d":"2013-02-20","v":6.91},{"d":"2013-02-22","v":6.93},{"d":"2013-02-25","v":6.96},{"d":"2013-02-27","v":6.99},{"d":"2013-03-01","v":7.1},{"d":"2013-03-03","v":7.15},{"d":"2013-03-05","v":7.07},{"d":"2013-03-08","v":7.04},{"d":"2013-03-12","v":7.04},{"d":"2013-03-14","v":7.01},{"d":"2013-03-17","v":7.07},{"d":"2013-03-19","v":7.08},{"d":"2013-03-22","v":6.98},{"d":"2013-03-25","v":6.88},{"d":"2013-03-27","v":6.76},{"d":"2013-03-28","v":6.73},{"d":"2013-03-31","v":6.94},{"d":"2013-04-01","v":6.82},{"d":"2013-04-04","v":6.79},{"d":"2013-04-06","v":6.76},{"d":"2013-04-09","v":6.67},{"d":"2013-04-11","v":6.7},{"d":"2013-04-13","v":6.61},{"d":"2013-04-16","v":6.64},{"d":"2013-04-18","v":6.4},{"d":"2013-04-20","v":6.55},{"d":"2013-04-22","v":6.58},{"d":"2013-04-25","v":6.56},{"d":"2013-04-27","v":6.61},{"d":"2013-04-29","v":6.64},{"d":"2013-05-02","v":6.64},{"d":"2013-05-04","v":6.67},{"d":"2013-05-07","v":6.82},{"d":"2013-05-09","v":6.94},{"d":"2013-05-12","v":6.91},{"d":"2013-05-14","v":7.04},{"d":"2013-05-17","v":7.22},{"d":"2013-05-19","v":7.31},{"d":"2013-05-21","v":7.34},{"d":"2013-05-23","v":7.43},{"d":"2013-05-25","v":7.52},{"d":"2013-05-27","v":7.62},{"d":"2013-05-29","v":7.52},{"d":"2013-05-31","v":7.31},{"d":"2013-06-02","v":7.37},{"d":"2013-06-04","v":7.52},{"d":"2013-06-07","v":7.71},{"d":"2013-06-09","v":8.01},{"d":"2013-06-11","v":8.04},{"d":"2013-06-13","v":7.83},{"d":"2013-06-15","v":7.62},{"d":"2013-06-17","v":7.58},{"d":"2013-06-19","v":7.46},{"d":"2013-06-21","v":7.52},{"d":"2013-06-23","v":7.54},{"d":"2013-06-27","v":7.51},{"d":"2013-06-29","v":7.4},{"d":"2013-07-01","v":7.31},{"d":"2013-07-04","v":7.22},{"d":"2013-07-06","v":7.19},{"d":"2013-07-09","v":7.19},{"d":"2013-07-12","v":7.22},{"d":"2013-07-14","v":7.31},{"d":"2013-07-16","v":7.34},{"d":"2013-07-19","v":7.39},{"d":"2013-07-21","v":7.41},{"d":"2013-07-24","v":7.34},{"d":"2013-07-26","v":7.31},{"d":"2013-07-29","v":7.27}],
"nickel": [{"d":"2012-10-01","v":16338},{"d":"2012-10-03","v":16015},{"d":"2012-10-06","v":15925},{"d":"2012-10-08","v":16015},{"d":"2012-10-11","v":16230},{"d":"2012-10-13","v":15925},{"d":"2012-10-16","v":16015},{"d":"2012-10-19","v":16105},{"d":"2012-10-22","v":15925},{"d":"2012-10-25","v":16105},{"d":"2012-10-26","v":15835},{"d":"2012-10-29","v":16374},{"d":"2012-10-31","v":16554},{"d":"2012-11-02","v":16554},{"d":"2012-11-04","v":16374},{"d":"2012-11-07","v":17631},{"d":"2012-11-09","v":17451},{"d":"2012-11-11","v":17595},{"d":"2012-11-14","v":17182},{"d":"2012-11-16","v":17541},{"d":"2012-11-19","v":17720},{"d":"2012-11-22","v":17846},{"d":"2012-11-24","v":17631},{"d":"2012-11-27","v":17720},{"d":"2012-11-29","v":17541},{"d":"2012-12-01","v":17272},{"d":"2012-12-04","v":17236},{"d":"2012-12-07","v":17056},{"d":"2012-12-09","v":17236},{"d":"2012-12-11","v":17631},{"d":"2012-12-14","v":17182},{"d":"2012-12-17","v":17451},{"d":"2012-12-19","v":17236},{"d":"2012-12-22","v":17541},{"d":"2012-12-25","v":17451},{"d":"2012-12-27","v":17541},{"d":"2012-12-30","v":17361},{"d":"2013-01-02","v":17361},{"d":"2013-01-04","v":17451},{"d":"2013-01-07","v":18079},{"d":"2013-01-10","v":18618},{"d":"2013-01-12","v":18672},{"d":"2013-01-15","v":18438},{"d":"2013-01-18","v":18079},{"d":"2013-01-20","v":18259},{"d":"2013-01-23","v":18348},{"d":"2013-01-25","v":18259},{"d":"2013-01-27","v":17810},{"d":"2013-01-29","v":17272},{"d":"2013-02-01","v":16733},{"d":"2013-02-04","v":16643},{"d":"2013-02-07","v":16554},{"d":"2013-02-10","v":16464},{"d":"2013-02-13","v":16554},{"d":"2013-02-16","v":16697},{"d":"2013-02-18","v":16913},{"d":"2013-02-21","v":17128},{"d":"2013-02-23","v":16769},{"d":"2013-02-25","v":16985},{"d":"2013-02-27","v":16554},{"d":"2013-03-01","v":16823},{"d":"2013-03-03","v":16643},{"d":"2013-03-06","v":16554},{"d":"2013-03-08","v":16284},{"d":"2013-03-11","v":16105},{"d":"2013-03-14","v":16015},{"d":"2013-03-16","v":15925},{"d":"2013-03-19","v":15746},{"d":"2013-03-21","v":15620},{"d":"2013-03-24","v":15477},{"d":"2013-03-27","v":15207},{"d":"2013-03-29","v":15297},{"d":"2013-04-02","v":15118},{"d":"2013-04-04","v":15387},{"d":"2013-04-07","v":15297},{"d":"2013-04-10","v":14669},{"d":"2013-04-12","v":15118},{"d":"2013-04-15","v":15207},{"d":"2013-04-17","v":15297},{"d":"2013-04-20","v":15207},{"d":"2013-04-22","v":14938},{"d":"2013-04-25","v":15028},{"d":"2013-04-27","v":15207},{"d":"2013-04-30","v":14938},{"d":"2013-05-02","v":14848},{"d":"2013-05-05","v":14848},{"d":"2013-05-08","v":14794},{"d":"2013-05-11","v":14848},{"d":"2013-05-13","v":15207},{"d":"2013-05-15","v":15118},{"d":"2013-05-17","v":14759},{"d":"2013-05-20","v":14220},{"d":"2013-05-23","v":14130},{"d":"2013-05-25","v":14184},{"d":"2013-05-28","v":14041},{"d":"2013-05-30","v":13682},{"d":"2013-06-01","v":13861},{"d":"2013-06-04","v":13646},{"d":"2013-06-06","v":13771},{"d":"2013-06-09","v":13951},{"d":"2013-06-12","v":14041},{"d":"2013-06-14","v":13323},{"d":"2013-06-17","v":13287},{"d":"2013-06-19","v":13502},{"d":"2013-06-22","v":13646},{"d":"2013-06-24","v":13771},{"d":"2013-06-27","v":14041},{"d":"2013-06-29","v":14130},{"d":"2013-07-01","v":14310},{"d":"2013-07-04","v":14130},{"d":"2013-07-06","v":13771},{"d":"2013-07-08","v":13592},{"d":"2013-07-10","v":13771},{"d":"2013-07-13","v":13951},{"d":"2013-07-15","v":13771},{"d":"2013-07-17","v":14490},{"d":"2013-07-19","v":14669},{"d":"2013-07-21","v":14669}],
"micex": [{"d":"2012-10-01","v":92.5},{"d":"2012-10-04","v":92.4},{"d":"2012-10-08","v":92.35},{"d":"2012-10-12","v":92.4},{"d":"2012-10-17","v":92.38},{"d":"2012-10-22","v":92.35},{"d":"2012-10-27","v":92.36},{"d":"2012-11-01","v":92.32},{"d":"2012-11-06","v":92.3},{"d":"2012-11-10","v":92.33},{"d":"2012-11-15","v":92.4},{"d":"2012-11-20","v":92.45},{"d":"2012-11-25","v":92.6},{"d":"2012-12-01","v":92.75},{"d":"2012-12-05","v":92.85},{"d":"2012-12-10","v":93.0},{"d":"2012-12-15","v":93.05},{"d":"2012-12-20","v":93.2},{"d":"2012-12-25","v":93.3},{"d":"2013-01-01","v":93.42},{"d":"2013-01-08","v":93.5},{"d":"2013-01-15","v":93.55},{"d":"2013-01-22","v":93.52},{"d":"2013-01-30","v":93.5},{"d":"2013-02-07","v":93.52},{"d":"2013-02-15","v":93.47},{"d":"2013-02-22","v":93.44},{"d":"2013-03-01","v":93.4},{"d":"2013-03-10","v":93.35},{"d":"2013-03-20","v":93.45},{"d":"2013-04-01","v":93.6},{"d":"2013-04-10","v":93.65},{"d":"2013-04-20","v":93.7},{"d":"2013-05-01","v":93.72},{"d":"2013-05-08","v":93.66},{"d":"2013-05-14","v":93.5},{"d":"2013-05-19","v":93.3},{"d":"2013-05-24","v":93.1},{"d":"2013-05-30","v":92.95},{"d":"2013-06-04","v":92.85},{"d":"2013-06-08","v":92.9},{"d":"2013-06-12","v":93.15},{"d":"2013-06-18","v":93.25},{"d":"2013-06-24","v":93.3},{"d":"2013-07-01","v":93.32},{"d":"2013-07-06","v":93.35},{"d":"2013-07-12","v":93.36}],
"baa": [{"d":"2012-10-01","v":4.6},{"d":"2012-10-04","v":4.5},{"d":"2012-10-08","v":4.55},{"d":"2012-10-13","v":4.58},{"d":"2012-10-18","v":4.55},{"d":"2012-10-24","v":4.6},{"d":"2012-10-30","v":4.5},{"d":"2012-11-04","v":4.45},{"d":"2012-11-09","v":4.48},{"d":"2012-11-14","v":4.55},{"d":"2012-11-19","v":4.58},{"d":"2012-11-24","v":4.55},{"d":"2012-12-01","v":4.6},{"d":"2012-12-05","v":4.65},{"d":"2012-12-10","v":4.75},{"d":"2012-12-15","v":4.7},{"d":"2012-12-20","v":4.65},{"d":"2012-12-26","v":4.7},{"d":"2013-01-01","v":4.8},{"d":"2013-01-05","v":4.85},{"d":"2013-01-10","v":4.8},{"d":"2013-01-18","v":4.85},{"d":"2013-01-25","v":4.9},{"d":"2013-02-01","v":4.88},{"d":"2013-02-05","v":4.85},{"d":"2013-02-10","v":4.9},{"d":"2013-02-15","v":4.85},{"d":"2013-02-20","v":4.7},{"d":"2013-02-25","v":4.72},{"d":"2013-03-01","v":4.8},{"d":"2013-03-05","v":4.82},{"d":"2013-03-10","v":4.85},{"d":"2013-03-16","v":4.75},{"d":"2013-03-22","v":4.7},{"d":"2013-04-01","v":4.6},{"d":"2013-04-05","v":4.55},{"d":"2013-04-10","v":4.5},{"d":"2013-04-15","v":4.55},{"d":"2013-04-20","v":4.5},{"d":"2013-04-25","v":4.52},{"d":"2013-05-01","v":4.5},{"d":"2013-05-05","v":4.6},{"d":"2013-05-10","v":4.75},{"d":"2013-05-15","v":4.85},{"d":"2013-05-20","v":4.95},{"d":"2013-05-25","v":5.05},{"d":"2013-06-01","v":5.15},{"d":"2013-06-05","v":5.25},{"d":"2013-06-10","v":5.3},{"d":"2013-06-15","v":5.45},{"d":"2013-06-20","v":5.35},{"d":"2013-06-25","v":5.5},{"d":"2013-07-01","v":5.35},{"d":"2013-07-05","v":5.25},{"d":"2013-07-10","v":5.3},{"d":"2013-07-15","v":5.4},{"d":"2013-07-20","v":5.3}],
"mm": [{"k":"1W","v":6.21,"g":"a"},{"k":"1M","v":6.51,"g":"a"},{"k":"2M","v":6.69,"g":"a"},{"k":"3M","v":6.9,"g":"a"},{"k":"6M","v":7.13,"g":"a"},{"k":"1Y","v":6.56,"g":"a"},{"k":"2Y","v":6.66,"g":"b"},{"k":"3Y","v":6.72,"g":"b"},{"k":"4Y","v":6.8,"g":"b"},{"k":"5Y","v":6.88,"g":"b"},{"k":"6Y","v":6.97,"g":"b"},{"k":"7Y","v":7.36,"g":"b"},{"k":"8Y","v":7.2,"g":"b"},{"k":"9Y","v":7.31,"g":"b"},{"k":"10Y","v":7.69,"g":"b"}],
"mm_box": [{"x1":"1Y","x2":"10Y","y1":6.55,"y2":5.68}],
"mm_note": [{"x":"1Y","y":6.38,"t":"До года Моспрайм,"},{"x":"1Y","y":6.1,"t":"после года - свопы"},{"x":"1Y","y":5.83,"t":"на Моспрайм"}],
"ust": [{"k":"1 m","v":0.1},{"k":"3 m","v":0.04},{"k":"6 m","v":0.07},{"k":"1 Y","v":0.1},{"k":"2 Y","v":0.32},{"k":"5 Y","v":1.4},{"k":"10 Y","v":2.63},{"k":"20 Y","v":3.32},{"k":"30 Y","v":3.68}],
"ust_note": [{"x":"1 m","y":3.15,"t":"Доходность к"},{"x":"1 m","y":2.58,"t":"погашению"},{"x":"1 m","y":2.0,"t":"облигаций"},{"x":"1 m","y":1.42,"t":"Минфина США"}]
},
"vconcat": [
{"hconcat": [
 {"width": 195, "height": 136, "title": {"text": "Индекс РТС", "dx": -37}, "data": {"name": "rts"}, "mark": "line",
  "encoding": {"x": {"field": "d", "type": "temporal", "title": null, "scale": {"type": "utc", "domain": [{"year": 2012, "month": 10, "date": 1, "utc": true}, {"year": 2013, "month": 7, "date": 29, "utc": true}]}, "axis": {"tickCount": {"interval": "month", "step": 1}, "labelExpr": "[utcFormat(datum.value, '%b'), utcFormat(datum.value, '%y')]", "labelPadding": 6, "labelLineHeight": 15}},
   "y": {"field": "v", "type": "quantitative", "title": null, "scale": {"domain": [1200, 1700], "nice": false, "zero": false}, "axis": {"values": [1200, 1250, 1300, 1350, 1400, 1450, 1500, 1550, 1600, 1650, 1700], "format": "d"}}}},
 {"width": 195, "height": 136, "title": {"text": "S&P 500", "dx": -37}, "data": {"name": "spx"}, "mark": "line",
  "encoding": {"x": {"field": "d", "type": "temporal", "title": null, "scale": {"type": "utc", "domain": [{"year": 2012, "month": 10, "date": 1, "utc": true}, {"year": 2013, "month": 7, "date": 30, "utc": true}]}, "axis": {"tickCount": {"interval": "month", "step": 1}, "labelExpr": "[utcFormat(datum.value, '%b'), utcFormat(datum.value, '%y')]", "labelPadding": 6, "labelLineHeight": 15}},
   "y": {"field": "v", "type": "quantitative", "title": null, "scale": {"domain": [1250, 1750], "nice": false, "zero": false}, "axis": {"values": [1250, 1300, 1350, 1400, 1450, 1500, 1550, 1600, 1650, 1700, 1750], "format": "d"}}}},
 {"width": 195, "height": 136, "title": {"text": "Shanghai SE Composite", "dx": -35}, "data": {"name": "shc"}, "mark": "line",
  "encoding": {"x": {"field": "d", "type": "temporal", "title": null, "scale": {"type": "utc", "domain": [{"year": 2012, "month": 10, "date": 1, "utc": true}, {"year": 2013, "month": 7, "date": 30, "utc": true}]}, "axis": {"tickCount": {"interval": "month", "step": 1}, "labelExpr": "[utcFormat(datum.value, '%b'), utcFormat(datum.value, '%y')]", "labelPadding": 6, "labelLineHeight": 15}},
   "y": {"field": "v", "type": "quantitative", "title": null, "scale": {"domain": [1800, 2500], "nice": false, "zero": false}, "axis": {"values": [1800, 1900, 2000, 2100, 2200, 2300, 2400, 2500], "format": "d"}}}},
 {"width": 200, "height": 136, "title": {"text": "EURO STOXX 600", "dx": -31}, "data": {"name": "sxxp"}, "mark": "line",
  "encoding": {"x": {"field": "d", "type": "temporal", "title": null, "scale": {"type": "utc", "domain": [{"year": 2012, "month": 10, "date": 1, "utc": true}, {"year": 2013, "month": 7, "date": 22, "utc": true}]}, "axis": {"tickCount": {"interval": "month", "step": 1}, "labelExpr": "[utcFormat(datum.value, '%b'), utcFormat(datum.value, '%y')]", "labelPadding": 6, "labelLineHeight": 15}},
   "y": {"field": "v", "type": "quantitative", "title": null, "scale": {"domain": [250, 320], "nice": false, "zero": false}, "axis": {"values": [250, 260, 270, 280, 290, 300, 310, 320], "format": "d"}}}}
], "spacing": 26},
{"hconcat": [
 {"width": 199, "height": 130, "title": {"text": "Курс USDRUB", "dx": -34}, "data": {"name": "usdrub"}, "mark": "line",
  "encoding": {"x": {"field": "d", "type": "temporal", "title": null, "scale": {"type": "utc", "domain": [{"year": 2012, "month": 11, "date": 1, "utc": true}, {"year": 2013, "month": 8, "date": 15, "utc": true}]}, "axis": {"tickCount": {"interval": "month", "step": 1}, "labelExpr": "utcFormat(datum.value, '%b %y')", "labelAngle": 270, "labelPadding": 3}},
   "y": {"field": "v", "type": "quantitative", "title": null, "scale": {"domain": [29, 34], "nice": false, "zero": false}, "axis": {"values": [29, 29.5, 30, 30.5, 31, 31.5, 32, 32.5, 33, 33.5, 34], "format": ".1f"}}}},
 {"width": 198, "height": 130, "title": {"text": "Курс EURUSD", "dx": -10}, "data": {"name": "eurusd"}, "mark": "line",
  "encoding": {"x": {"field": "d", "type": "temporal", "title": null, "scale": {"type": "utc", "domain": [{"year": 2012, "month": 11, "date": 1, "utc": true}, {"year": 2013, "month": 8, "date": 13, "utc": true}]}, "axis": {"tickCount": {"interval": "month", "step": 1}, "labelExpr": "utcFormat(datum.value, '%b %y')", "labelAngle": 270, "labelPadding": 3}},
   "y": {"field": "v", "type": "quantitative", "title": null, "scale": {"domain": [1.25, 1.39], "nice": false, "zero": false}, "axis": {"orient": "right", "values": [1.25, 1.27, 1.29, 1.31, 1.33, 1.35, 1.37, 1.39], "format": ".2f", "labelFontSize": 12}}}},
 {"width": 202, "height": 130, "title": {"text": "Курс USDJPY", "dx": -29}, "data": {"name": "usdjpy"}, "mark": "line",
  "encoding": {"x": {"field": "d", "type": "temporal", "title": null, "scale": {"type": "utc", "domain": [{"year": 2012, "month": 11, "date": 1, "utc": true}, {"year": 2013, "month": 8, "date": 14, "utc": true}]}, "axis": {"tickCount": {"interval": "month", "step": 1}, "labelExpr": "utcFormat(datum.value, '%b %y')", "labelAngle": 270, "labelPadding": 3}},
   "y": {"field": "v", "type": "quantitative", "title": null, "scale": {"domain": [75, 105], "nice": false, "zero": false}, "axis": {"values": [75, 80, 85, 90, 95, 100, 105], "format": "d"}}}},
 {"width": 207, "height": 130, "title": {"text": "JPM Global Composite PMI SA", "dx": -25}, "data": {"name": "pmi"}, "mark": "line",
  "encoding": {"x": {"field": "d", "type": "temporal", "title": null, "scale": {"type": "utc", "domain": [{"year": 2005, "month": 1, "date": 1, "utc": true}, {"year": 2013, "month": 7, "date": 20, "utc": true}]}, "axis": {"tickCount": {"interval": "year", "step": 1}, "labelExpr": "utcFormat(datum.value, '%b %y')", "labelAngle": 270, "labelPadding": 3}},
   "y": {"field": "v", "type": "quantitative", "title": null, "scale": {"domain": [34, 62], "nice": false, "zero": false}, "axis": {"values": [34, 38, 42, 46, 50, 54, 58, 62], "format": "d"}}}}
], "spacing": 22},
{"hconcat": [
 {"width": 200, "height": 130, "title": {"text": "Нефть Brent, $/барр.", "dx": -32}, "data": {"name": "brent"}, "mark": "line",
  "encoding": {"x": {"field": "d", "type": "temporal", "title": null, "scale": {"type": "utc", "domain": [{"year": 2012, "month": 10, "date": 1, "utc": true}, {"year": 2013, "month": 7, "date": 14, "utc": true}]}, "axis": {"tickCount": {"interval": "month", "step": 1}, "labelExpr": "utcFormat(datum.value, '%b %y')", "labelAngle": 270, "labelPadding": 3}},
   "y": {"field": "v", "type": "quantitative", "title": null, "scale": {"domain": [95, 125], "nice": false, "zero": false}, "axis": {"values": [95, 100, 105, 110, 115, 120, 125], "format": "d"}}}},
 {"width": 197, "height": 130, "title": {"text": "Золото, $/Oz", "dx": -35}, "data": {"name": "gold"}, "mark": "line",
  "encoding": {"x": {"field": "d", "type": "temporal", "title": null, "scale": {"type": "utc", "domain": [{"year": 2012, "month": 11, "date": 1, "utc": true}, {"year": 2013, "month": 8, "date": 13, "utc": true}]}, "axis": {"tickCount": {"interval": "month", "step": 1}, "labelExpr": "utcFormat(datum.value, '%b %y')", "labelAngle": 270, "labelPadding": 3}},
   "y": {"field": "v", "type": "quantitative", "title": null, "scale": {"domain": [1100, 1800], "nice": false, "zero": false}, "axis": {"values": [1100, 1200, 1300, 1400, 1500, 1600, 1700, 1800], "format": "d"}}}},
 {"width": 203, "height": 130, "title": {"text": "Доходность рубл.облиг. РФ, ср.взвеш., %", "dx": -27, "limit": 232}, "data": {"name": "ofz"}, "mark": "line",
  "encoding": {"x": {"field": "d", "type": "temporal", "title": null, "scale": {"type": "utc", "domain": [{"year": 2012, "month": 10, "date": 1, "utc": true}, {"year": 2013, "month": 7, "date": 29, "utc": true}]}, "axis": {"tickCount": {"interval": "month", "step": 1}, "labelExpr": "[utcFormat(datum.value, '%b'), utcFormat(datum.value, '%y')]", "labelPadding": 6, "labelLineHeight": 15}},
   "y": {"field": "v", "type": "quantitative", "title": null, "scale": {"domain": [6, 8.5], "nice": false, "zero": false}, "axis": {"values": [6, 6.5, 7, 7.5, 8, 8.5], "format": "~g"}}}},
 {"width": 189, "height": 130, "title": {"text": "Никель, $/тонна", "dx": -46}, "data": {"name": "nickel"}, "mark": "line",
  "encoding": {"x": {"field": "d", "type": "temporal", "title": null, "scale": {"type": "utc", "domain": [{"year": 2012, "month": 10, "date": 1, "utc": true}, {"year": 2013, "month": 7, "date": 21, "utc": true}]}, "axis": {"tickCount": {"interval": "month", "step": 1}, "labelExpr": "utcFormat(datum.value, '%b %y')", "labelAngle": 270, "labelPadding": 3}},
   "y": {"field": "v", "type": "quantitative", "title": null, "scale": {"domain": [13000, 20000], "nice": false, "zero": false}, "axis": {"values": [13000, 14000, 15000, 16000, 17000, 18000, 19000, 20000], "format": "d"}}}}
], "spacing": 22},
{"hconcat": [
 {"width": 201, "height": 137, "title": {"text": "ММВБ, корп. облигации, ср.взв.цена", "dx": -31, "limit": 236}, "data": {"name": "micex"}, "mark": "line",
  "encoding": {"x": {"field": "d", "type": "temporal", "title": null, "scale": {"type": "utc", "domain": [{"year": 2012, "month": 10, "date": 1, "utc": true}, {"year": 2013, "month": 7, "date": 12, "utc": true}]}, "axis": {"tickCount": {"interval": "month", "step": 1}, "labelExpr": "utcFormat(datum.value, '%b %y')", "labelAngle": 270, "labelPadding": 3}},
   "y": {"field": "v", "type": "quantitative", "title": null, "scale": {"domain": [91.5, 94], "nice": false, "zero": false}, "axis": {"values": [91.5, 92, 92.5, 93, 93.5, 94], "format": "~g"}}}},
 {"width": 214, "height": 137, "title": {"text": "Moody's Bond Indices Corporate BAA", "dx": -29}, "data": {"name": "baa"}, "mark": "line",
  "encoding": {"x": {"field": "d", "type": "temporal", "title": null, "scale": {"type": "utc", "domain": [{"year": 2012, "month": 10, "date": 1, "utc": true}, {"year": 2013, "month": 7, "date": 25, "utc": true}]}, "axis": {"tickCount": {"interval": "month", "step": 1}, "labelExpr": "utcFormat(datum.value, '%b %y')", "labelAngle": 270, "labelPadding": 3}},
   "y": {"field": "v", "type": "quantitative", "title": null, "scale": {"domain": [4.2, 5.6], "nice": false, "zero": false}, "axis": {"values": [4.2, 4.4, 4.6, 4.8, 5, 5.2, 5.4, 5.6], "format": "~g"}}}},
 {"width": 215, "height": 152, "title": {"text": "Ставки денежного рынка в РФ", "dx": -29},
  "layer": [
   {"data": {"name": "mm_box"}, "mark": {"type": "rect", "fill": "white", "stroke": "#000000", "strokeWidth": 0.8},
    "encoding": {"x": {"field": "x1", "type": "ordinal", "title": null, "scale": {"type": "point", "padding": 0.5, "domain": ["1W","1M","2M","3M","6M","1Y","2Y","3Y","4Y","5Y","6Y","7Y","8Y","9Y","10Y"]}, "axis": {"labelAngle": 270, "labelPadding": 3, "grid": false}}, "x2": {"field": "x2"},
     "y": {"field": "y1", "type": "quantitative", "title": null, "scale": {"domain": [5.6, 8.1], "nice": false, "zero": false}, "axis": {"values": [5.6, 6.1, 6.6, 7.1, 7.6, 8.1], "format": "~g"}}, "y2": {"field": "y2"}}},
   {"data": {"name": "mm"}, "mark": {"type": "line", "point": {"shape": "diamond", "size": 55, "filled": true, "color": "#1F3A73"}, "color": "#1F3A73", "strokeWidth": 2},
    "encoding": {"x": {"field": "k", "type": "ordinal", "title": null, "scale": {"type": "point", "padding": 0.5, "domain": ["1W","1M","2M","3M","6M","1Y","2Y","3Y","4Y","5Y","6Y","7Y","8Y","9Y","10Y"]}, "axis": {"labelAngle": 270, "labelPadding": 3, "grid": false}},
     "y": {"field": "v", "type": "quantitative", "title": null, "scale": {"domain": [5.6, 8.1], "nice": false, "zero": false}, "axis": {"values": [5.6, 6.1, 6.6, 7.1, 7.6, 8.1], "format": "~g"}},
     "detail": {"field": "g"}}},
   {"data": {"name": "mm_note"}, "mark": {"type": "text", "align": "left", "dx": 6, "fontStyle": "italic", "fontSize": 11.5, "color": "#000000"},
    "encoding": {"x": {"field": "x", "type": "ordinal", "title": null, "scale": {"type": "point", "padding": 0.5, "domain": ["1W","1M","2M","3M","6M","1Y","2Y","3Y","4Y","5Y","6Y","7Y","8Y","9Y","10Y"]}, "axis": {"labelAngle": 270, "labelPadding": 3, "grid": false}},
     "y": {"field": "y", "type": "quantitative", "title": null, "scale": {"domain": [5.6, 8.1], "nice": false, "zero": false}, "axis": {"values": [5.6, 6.1, 6.6, 7.1, 7.6, 8.1], "format": "~g"}}, "text": {"field": "t"}}}
  ]},
 {"width": 212, "height": 152, "title": {"text": "Кривая доходности в США", "dx": -17},
  "layer": [
   {"data": {"name": "ust"}, "mark": {"type": "line", "point": {"shape": "diamond", "size": 55, "filled": true, "color": "#1F3A73"}, "color": "#1F3A73", "strokeWidth": 2},
    "encoding": {"x": {"field": "k", "type": "ordinal", "title": null, "sort": null, "scale": {"type": "point", "padding": 0.5, "domain": ["1 m","3 m","6 m","1 Y","2 Y","5 Y","10 Y","20 Y","30 Y"]}, "axis": {"labelAngle": 270, "labelPadding": 3, "grid": false}},
     "y": {"field": "v", "type": "quantitative", "title": null, "scale": {"domain": [0, 4], "nice": false, "zero": false}, "axis": {"values": [0, 0.5, 1, 1.5, 2, 2.5, 3, 3.5, 4], "format": ".1f"}}}},
   {"data": {"name": "ust_note"}, "mark": {"type": "text", "align": "left", "dx": 11, "fontStyle": "italic", "fontSize": 11.5, "color": "#000000"},
    "encoding": {"x": {"field": "x", "type": "ordinal", "title": null, "scale": {"type": "point", "padding": 0.5, "domain": ["1 m","3 m","6 m","1 Y","2 Y","5 Y","10 Y","20 Y","30 Y"]}, "axis": {"labelAngle": 270, "labelPadding": 3, "grid": false}},
     "y": {"field": "y", "type": "quantitative", "title": null, "scale": {"domain": [0, 4], "nice": false, "zero": false}, "axis": {"values": [0, 0.5, 1, 1.5, 2, 2.5, 3, 3.5, 4], "format": ".1f"}}, "text": {"field": "t"}}}
  ]}
], "spacing": 13}
],
"config": {
 "font": "Lato, 'Noto Sans', sans-serif",
 "view": {"stroke": null},
 "axis": {"labelFont": "Lato, 'Noto Sans', sans-serif", "labelFontSize": 11, "labelColor": "#1F3A6E", "gridColor": "#8C96B6", "gridWidth": 1, "domainColor": "#8C96B6", "domainWidth": 1, "ticks": false, "grid": true, "labelFlush": false, "labelOverlap": false, "minExtent": 0},
 "axisY": {"labelPadding": 8},
 "title": {"anchor": "start", "frame": "group", "fontSize": 13.5, "fontWeight": "bold", "color": "#17325E", "baseline": "bottom", "offset": 11, "font": "Lato, 'Noto Sans', sans-serif"},
 "line": {"color": "#0D215E", "strokeWidth": 2.5},
 "text": {"font": "Lato, 'Noto Sans', sans-serif"}
}
}
